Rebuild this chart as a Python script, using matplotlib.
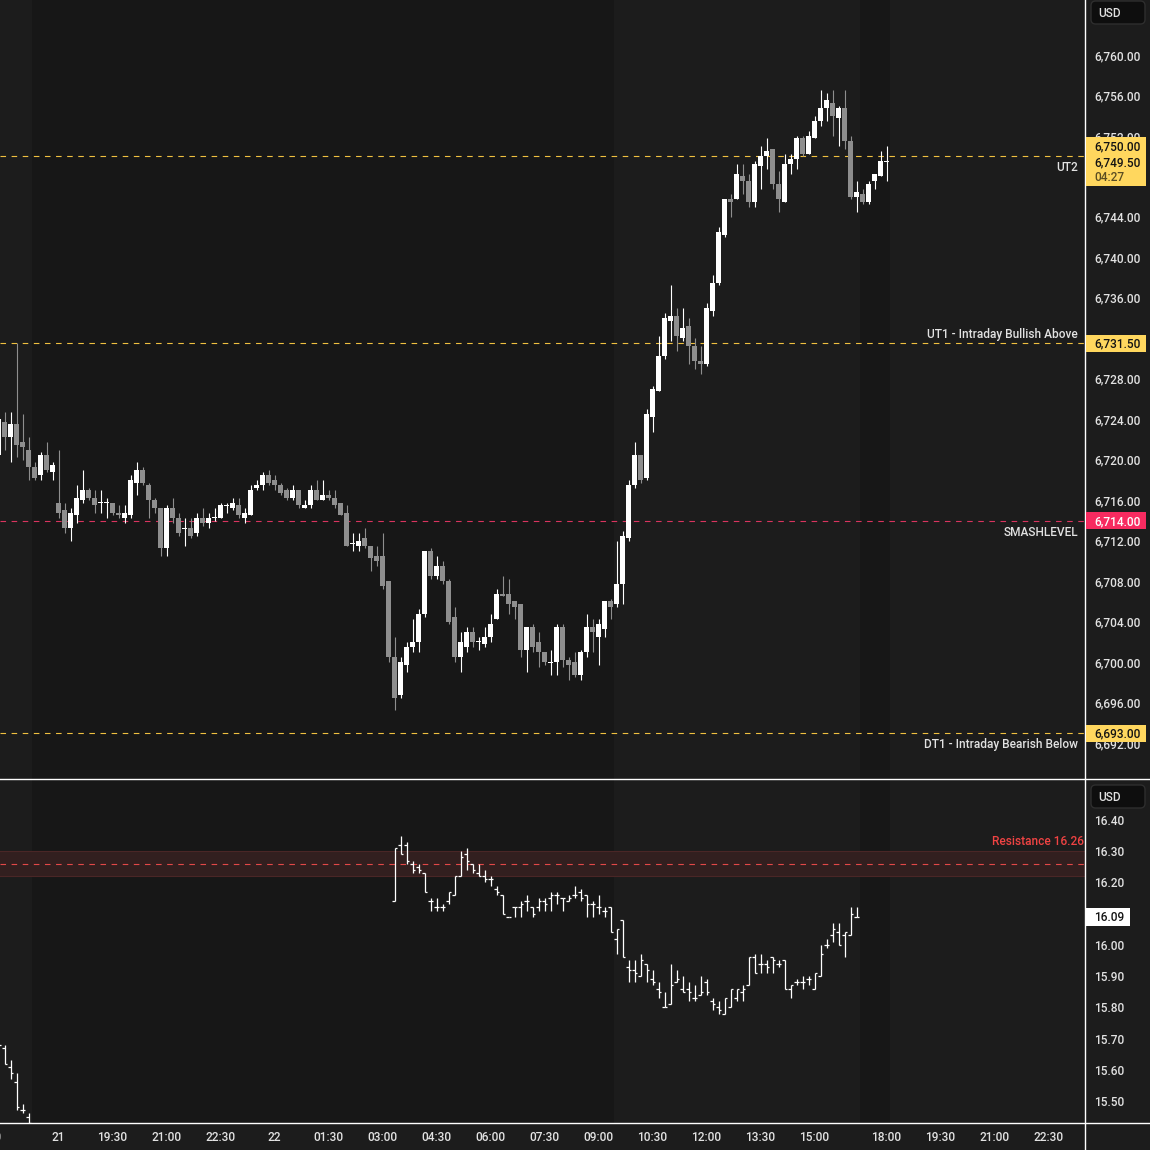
import matplotlib
matplotlib.use('Agg')
import matplotlib.pyplot as plt
from matplotlib.patches import Rectangle, FancyBboxPatch
from matplotlib.lines import Line2D

plt.rcParams['font.family'] = ['Roboto', 'DejaVu Sans']
plt.rcParams['font.weight'] = 'medium'

W = H = 1150
BG = '#1c1c1c'
BG_ETH = '#171717'
TXT = '#e2e2e2'
UP = '#ffffff'
DOWN = '#8e8e8e'
YELLOW = '#ffd75e'
LINE_YELLOW = '#f0c040'
PINK = '#f72b60'
RED = '#f04343'
FS = 8.6

# ES 10-minute candles, bar index 0..148
es_open = [6720.5, 6723.75, 6722.25, 6723.5, 6721.75, 6721.0, 6719.25, 6718.5, 6720.5, 6718.75,
           6715.75, 6715.0, 6713.25, 6714.5, 6716.0, 6717.0, 6716.25, 6715.75, 6715.75, 6715.75,
           6714.75, 6714.25, 6714.5, 6717.75, 6719.0, 6717.5, 6716.0, 6715.25, 6711.25, 6715.25,
           6714.25, 6713.25, 6713.25, 6712.75, 6714.25, 6713.75, 6714.25, 6714.25, 6715.5, 6715.25,
           6715.5, 6714.25, 6714.5, 6717.25, 6717.5, 6718.5, 6718.0, 6717.5, 6717.0, 6716.25,
           6717.0, 6715.25, 6715.5, 6717.0, 6716.0, 6716.5, 6716.25, 6715.75, 6714.75, 6711.75,
           6711.5, 6712.25, 6711.5, 6710.5, 6710.5, 6708.0, 6700.5, 6696.75, 6699.75, 6701.5,
           6702.0, 6704.75, 6711.0, 6708.5, 6709.5, 6708.0, 6704.5, 6700.5, 6701.5, 6703.0,
           6702.0, 6701.75, 6702.5, 6704.25, 6706.75, 6706.75, 6706.0, 6705.75, 6701.25, 6703.5,
           6702.0, 6701.0, 6700.0, 6700.0, 6703.5, 6700.25, 6700.0, 6698.75, 6701.0, 6703.5,
           6702.5, 6703.25, 6706.0, 6705.75, 6707.75, 6712.25, 6717.5, 6720.5, 6718.25, 6724.25,
           6726.75, 6730.25, 6733.75, 6734.25, 6732.0, 6733.25, 6731.25, 6729.75, 6729.5, 6734.75,
           6737.5, 6742.25, 6745.75, 6745.75, 6748.0, 6747.5, 6745.5, 6749.0, 6750.0, 6750.75,
           6747.25, 6745.5, 6749.25, 6749.75, 6751.75, 6750.25, 6751.75, 6753.5, 6754.75, 6755.25,
           6753.75, 6754.75, 6751.5, 6746.0, 6746.25, 6745.5, 6747.5, 6748.0, 6749.5]
es_high = [6724.25, 6724.75, 6724.75, 6731.5, 6724.5, 6722.25, 6719.75, 6720.75, 6721.75, 6719.75,
           6721.0, 6715.75, 6715.25, 6717.5, 6719.0, 6717.25, 6717.0, 6717.0, 6716.25, 6715.75,
           6715.5, 6715.5, 6718.5, 6719.75, 6719.25, 6717.75, 6716.25, 6715.25, 6715.5, 6716.25,
           6714.75, 6714.25, 6714.25, 6714.75, 6715.25, 6714.75, 6715.25, 6715.75, 6715.75, 6716.25,
           6716.25, 6715.25, 6717.5, 6718.0, 6718.75, 6719.0, 6718.5, 6717.75, 6717.25, 6717.5,
           6717.0, 6716.0, 6717.5, 6718.0, 6718.0, 6717.0, 6717.0, 6715.75, 6715.5, 6712.75,
           6712.75, 6713.25, 6711.5, 6711.5, 6712.75, 6708.0, 6702.5, 6700.5, 6702.0, 6704.25,
           6705.25, 6711.0, 6711.25, 6710.5, 6710.0, 6708.25, 6705.5, 6703.0, 6703.5, 6703.5,
           6702.5, 6703.5, 6704.75, 6707.25, 6708.5, 6708.25, 6706.0, 6705.75, 6703.5, 6703.75,
           6703.0, 6701.0, 6701.25, 6703.75, 6703.75, 6700.5, 6701.0, 6701.25, 6704.75, 6704.25,
           6704.25, 6706.0, 6706.25, 6712.0, 6713.0, 6718.0, 6721.75, 6720.5, 6725.0, 6727.25,
           6732.25, 6734.5, 6737.25, 6735.0, 6735.0, 6734.0, 6732.0, 6731.25, 6735.5, 6738.25,
           6743.0, 6745.75, 6746.25, 6749.25, 6749.25, 6748.25, 6749.5, 6751.0, 6751.75, 6750.75,
           6748.5, 6750.25, 6750.25, 6752.0, 6752.0, 6752.5, 6754.0, 6756.5, 6756.25, 6756.5,
           6755.0, 6756.5, 6752.0, 6747.5, 6746.75, 6747.5, 6748.25, 6750.5, 6751.0]
es_low = [6719.75, 6721.0, 6719.75, 6720.25, 6720.0, 6718.0, 6718.0, 6718.0, 6718.75, 6718.0,
          6714.25, 6712.75, 6712.0, 6713.75, 6715.75, 6716.0, 6714.75, 6714.75, 6714.25, 6714.5,
          6714.25, 6713.75, 6714.25, 6716.5, 6717.5, 6714.25, 6714.75, 6710.5, 6710.5, 6713.75,
          6712.5, 6711.5, 6712.25, 6712.5, 6713.5, 6713.25, 6714.0, 6714.25, 6714.75, 6715.0,
          6714.25, 6713.75, 6714.5, 6717.0, 6717.0, 6717.5, 6717.0, 6716.5, 6716.0, 6716.0,
          6715.25, 6715.25, 6715.25, 6716.0, 6716.0, 6716.0, 6715.25, 6714.5, 6711.5, 6711.0,
          6711.0, 6711.25, 6709.0, 6709.5, 6707.25, 6700.0, 6695.25, 6696.5, 6699.0, 6701.0,
          6701.0, 6704.5, 6708.25, 6708.25, 6707.75, 6703.75, 6700.0, 6699.0, 6701.0, 6701.5,
          6701.25, 6701.5, 6702.0, 6704.25, 6706.5, 6704.75, 6704.25, 6700.5, 6699.0, 6701.0,
          6699.5, 6699.75, 6698.75, 6698.75, 6699.5, 6698.25, 6698.5, 6698.25, 6700.5, 6701.0,
          6699.75, 6702.5, 6704.25, 6705.5, 6705.75, 6712.0, 6717.25, 6717.75, 6718.0, 6722.75,
          6726.75, 6730.0, 6731.75, 6730.75, 6731.75, 6729.5, 6729.0, 6728.5, 6729.25, 6734.25,
          6737.25, 6742.0, 6744.0, 6745.75, 6746.25, 6745.0, 6745.0, 6746.75, 6748.75, 6746.75,
          6744.5, 6745.5, 6748.25, 6748.75, 6750.0, 6750.25, 6751.75, 6753.0, 6753.5, 6752.0,
          6751.0, 6750.75, 6745.75, 6744.5, 6745.25, 6745.25, 6746.75, 6748.0, 6747.5]
es_close = [6724.0, 6722.25, 6723.5, 6721.5, 6721.25, 6719.25, 6718.25, 6720.5, 6719.0, 6719.5,
            6714.75, 6713.25, 6714.75, 6716.25, 6717.0, 6716.25, 6715.5, 6715.75, 6715.75, 6714.75,
            6714.5, 6714.75, 6718.0, 6719.0, 6717.75, 6716.0, 6715.25, 6711.25, 6715.25, 6714.25,
            6712.75, 6713.25, 6712.5, 6714.25, 6713.75, 6714.25, 6714.25, 6715.5, 6715.5, 6715.75,
            6714.5, 6714.75, 6717.0, 6717.5, 6718.5, 6717.75, 6717.5, 6716.75, 6716.25, 6717.0,
            6715.5, 6715.5, 6717.0, 6716.0, 6716.5, 6716.25, 6715.5, 6714.5, 6711.5, 6711.75,
            6712.0, 6711.5, 6710.25, 6710.0, 6707.5, 6700.5, 6696.5, 6700.0, 6701.5, 6702.0,
            6704.75, 6711.0, 6708.5, 6709.5, 6708.0, 6704.0, 6700.5, 6702.0, 6703.0, 6702.0,
            6702.0, 6702.5, 6703.75, 6706.75, 6706.5, 6705.75, 6705.5, 6701.25, 6703.5, 6701.5,
            6701.0, 6700.0, 6700.0, 6703.5, 6700.25, 6699.75, 6698.75, 6701.0, 6703.5, 6703.0,
            6703.75, 6706.0, 6705.5, 6707.75, 6712.5, 6717.5, 6720.5, 6718.0, 6724.5, 6727.0,
            6730.25, 6734.0, 6734.25, 6732.25, 6733.0, 6731.25, 6729.75, 6729.5, 6735.0, 6737.5,
            6742.5, 6745.75, 6745.5, 6748.25, 6747.5, 6745.5, 6749.25, 6750.0, 6750.5, 6747.25,
            6745.75, 6749.25, 6749.75, 6751.75, 6750.25, 6752.0, 6753.5, 6754.75, 6755.5, 6754.0,
            6754.75, 6751.5, 6746.0, 6746.5, 6745.5, 6747.25, 6748.25, 6749.5, 6749.5]

# VIX bars (only traded bars), positions on the same bar index
vix_bar = list(range(0, 6)) + list(range(66, 144))
vix_open = [15.70, 15.67, 15.61, 15.56, 15.47, 15.45,
            16.14, 16.32, 16.32, 16.26, 16.25, 16.23, 16.14, 16.12, 16.12, 16.14,
            16.16, 16.22, 16.29, 16.26, 16.23, 16.22, 16.21, 16.18, 16.16, 16.09,
            16.12, 16.12, 16.14, 16.12, 16.12, 16.14, 16.15, 16.16, 16.15, 16.14,
            16.16, 16.17, 16.16, 16.13, 16.12, 16.11, 16.12, 16.02, 16.08, 15.93,
            15.92, 15.90, 15.94, 15.89, 15.86, 15.80, 15.81, 15.88, 15.86, 15.86,
            15.83, 15.84, 15.88, 15.82, 15.80, 15.78, 15.80, 15.83, 15.85, 15.87,
            15.96, 15.94, 15.94, 15.96, 15.94, 15.95, 15.86, 15.88, 15.88, 15.89,
            15.86, 15.90, 16.00, 16.03, 16.04, 16.03, 16.03, 16.09]
vix_high = [15.71, 15.68, 15.63, 15.59, 15.49, 15.46,
            16.31, 16.35, 16.33, 16.27, 16.26, 16.23, 16.15, 16.15, 16.13, 16.17,
            16.22, 16.30, 16.31, 16.26, 16.26, 16.24, 16.22, 16.19, 16.16, 16.09,
            16.12, 16.14, 16.16, 16.12, 16.15, 16.15, 16.17, 16.17, 16.15, 16.16,
            16.19, 16.18, 16.16, 16.14, 16.16, 16.12, 16.12, 16.05, 16.08, 15.95,
            15.95, 15.97, 15.94, 15.92, 15.88, 15.85, 15.94, 15.92, 15.90, 15.88,
            15.87, 15.90, 15.89, 15.83, 15.82, 15.83, 15.86, 15.86, 15.87, 15.96,
            15.97, 15.97, 15.95, 15.96, 15.95, 15.95, 15.87, 15.89, 15.90, 15.90,
            15.91, 16.00, 16.02, 16.07, 16.07, 16.04, 16.12, 16.12]
vix_low = [15.67, 15.62, 15.57, 15.47, 15.46, 15.41,
           16.14, 16.29, 16.26, 16.23, 16.23, 16.17, 16.11, 16.11, 16.11, 16.13,
           16.16, 16.22, 16.24, 16.23, 16.22, 16.20, 16.19, 16.16, 16.10, 16.09,
           16.09, 16.09, 16.11, 16.09, 16.11, 16.11, 16.11, 16.13, 16.11, 16.14,
           16.15, 16.14, 16.09, 16.09, 16.10, 16.09, 16.04, 15.97, 15.96, 15.88,
           15.88, 15.90, 15.88, 15.87, 15.83, 15.80, 15.81, 15.88, 15.85, 15.82,
           15.82, 15.84, 15.84, 15.79, 15.78, 15.78, 15.80, 15.82, 15.82, 15.87,
           15.91, 15.91, 15.91, 15.91, 15.93, 15.86, 15.83, 15.87, 15.86, 15.87,
           15.86, 15.90, 15.99, 16.01, 16.00, 15.96, 16.03, 16.09]
vix_close = [15.68, 15.62, 15.59, 15.48, 15.47, 15.43,
             16.31, 16.29, 16.27, 16.24, 16.24, 16.17, 16.14, 16.12, 16.12, 16.17,
             16.22, 16.28, 16.27, 16.24, 16.22, 16.21, 16.21, 16.17, 16.10, 16.09,
             16.12, 16.13, 16.14, 16.10, 16.14, 16.13, 16.16, 16.16, 16.15, 16.15,
             16.16, 16.15, 16.13, 16.13, 16.12, 16.11, 16.04, 16.05, 15.96, 15.92,
             15.91, 15.95, 15.92, 15.88, 15.85, 15.80, 15.87, 15.89, 15.85, 15.85,
             15.83, 15.85, 15.85, 15.81, 15.79, 15.83, 15.86, 15.86, 15.86, 15.96,
             15.91, 15.94, 15.93, 15.95, 15.94, 15.86, 15.87, 15.88, 15.88, 15.89,
             15.91, 15.97, 16.00, 16.05, 16.00, 16.04, 16.10, 16.09]

# horizontal levels on the ES pane
level_values = [6750.00, 6731.50, 6714.00, 6693.00]
level_names = ['UT2', 'UT1 - Intraday Bullish Above', 'SMASHLEVEL', 'DT1 - Intraday Bearish Below']
level_colors = [LINE_YELLOW, LINE_YELLOW, '#d9345f', LINE_YELLOW]
level_label_side = ['below', 'above', 'below', 'below']
resistance_low, resistance_mid, resistance_high = 16.22, 16.26, 16.30

# x axis time labels (bar index -> label)
time_ticks = [10, 19, 28, 37, 46, 55, 64, 73, 82, 91, 100, 109, 118, 127, 136, 148, 157, 166, 175]
time_labels = ['21', '19:30', '21:00', '22:30', '22', '01:30', '03:00', '04:30', '06:00', '07:30',
               '09:00', '10:30', '12:00', '13:30', '15:00', '18:00', '19:30', '21:00', '22:30']
eth_spans = [(5.5, 102.5), (143.5, 148.5)]

es_ticks = list(range(6692, 6761, 4))
vix_ticks = [15.5, 15.6, 15.7, 15.8, 15.9, 16.0, 16.1, 16.2, 16.3, 16.4]

last_price = 6749.50
countdown = '04:27'
vix_last = 16.09


def fx(x):
    return x / W


def fy(y):
    return 1 - y / H


def py(ax, value):
    # pixel row (from top) of a data value
    return H - ax.transData.transform((0, value))[1]


fig = plt.figure(figsize=(W / 100, H / 100), dpi=100, facecolor=BG)
ax = fig.add_axes([0, fy(779), fx(1085), 779 / H])
axv = fig.add_axes([0, fy(1123), fx(1085), 343 / H])
xlim = (0.25, 181.08)

for a in (ax, axv):
    a.set_facecolor(BG)
    a.set_xlim(*xlim)
    for s in a.spines.values():
        s.set_visible(False)
    for x0, x1 in eth_spans:
        a.axvspan(x0, x1, color=BG_ETH, lw=0, zorder=0)
    a.yaxis.tick_right()
    a.tick_params(axis='y', length=0, pad=6.5, labelsize=FS, labelcolor=TXT)

ax.set_ylim(6688.46, 6765.43)
axv.set_ylim(15.4295, 16.528)

# ES candles
n = len(es_open)
for i in range(n):
    o, h, l, c = es_open[i], es_high[i], es_low[i], es_close[i]
    col = UP if c >= o else DOWN
    ax.vlines(i, l, h, color=col, lw=0.8, zorder=3)
    bottom = min(o, c)
    height = max(abs(c - o), 0.1)
    ax.bar(i, height, bottom=bottom - (0.05 if c == o else 0), width=0.82,
           color=col, lw=0, zorder=4)

# levels
for val, col in zip(level_values, level_colors):
    ax.axhline(val, color=col, lw=0.8, ls=(0, (5, 5)), zorder=2)

ax.set_xticks([])
ax.set_yticks(es_ticks)
ax.set_yticklabels([f'{v:,.2f}' for v in es_ticks])

# VIX OHLC bars
for j, i in enumerate(vix_bar):
    o, h, l, c = vix_open[j], vix_high[j], vix_low[j], vix_close[j]
    axv.vlines(i, l, h, color='white', lw=0.9, zorder=3)
    axv.hlines(o, i - 0.42, i, color='white', lw=0.9, zorder=3)
    axv.hlines(c, i, i + 0.42, color='white', lw=0.9, zorder=3)

axv.axhspan(resistance_low, resistance_high, color='#321f1f', lw=0, zorder=1)
axv.axhline(resistance_high, color='#4a2626', lw=0.8, zorder=1)
axv.axhline(resistance_low, color='#4a2626', lw=0.8, zorder=1)
axv.axhline(resistance_mid, color='#e34848', lw=0.8, ls=(0, (5, 5)), zorder=2)

axv.set_yticks(vix_ticks)
axv.set_yticklabels([f'{v:.2f}' for v in vix_ticks])
axv.set_xticks(time_ticks)
axv.set_xticklabels(time_labels)
axv.tick_params(axis='x', length=0, pad=6, labelsize=FS, labelcolor=TXT)
# previous-day label, only its last digit shows at the left edge (as in the source)
axv.annotate('15:00', xy=(-2, 0), xycoords=('data', 'axes fraction'), xytext=(0, -6),
             textcoords='offset points', ha='center', va='top', fontsize=FS, color=TXT,
             annotation_clip=False)

# separators
fig.add_artist(Line2D([fx(1085), fx(1085)], [0, 1], transform=fig.transFigure, color='white', lw=1.0))
fig.add_artist(Line2D([0, 1], [fy(779), fy(779)], transform=fig.transFigure, color='white', lw=1.0))
fig.add_artist(Line2D([0, 1], [fy(1123), fy(1123)], transform=fig.transFigure, color='white', lw=1.0))


def tag(yc, h, face, texts, x0=1086, x1=1146):
    fig.add_artist(Rectangle((fx(x0), fy(yc + h / 2)), (x1 - x0) / W, h / H,
                             transform=fig.transFigure, fc=face, ec='none', zorder=5))
    for txt, col, dy in texts:
        fig.text(fx(1094), fy(yc + dy + 1), txt, color=col, fontsize=FS, ha='left', va='center',
                 zorder=6)


def usd_box(y0):
    fig.add_artist(FancyBboxPatch((fx(1091), fy(y0 + 23)), 54 / W, 23 / H,
                                  boxstyle='round,pad=0,rounding_size=0.004',
                                  transform=fig.transFigure, fc='#0e0e0e', ec='#2e2e2e',
                                  lw=1.0, zorder=5))
    fig.text(fx(1098), fy(y0 + 12.5), 'USD', color=TXT, fontsize=FS, ha='left', va='center', zorder=6)


usd_box(1)
usd_box(785)

# level labels and price tags
for val, name, side in zip(level_values, level_names, level_label_side):
    yl = py(ax, val)
    dy = 11.5 if side == 'below' else -9
    fig.text(fx(1078), fy(yl + dy), name, color=TXT, fontsize=FS, ha='right', va='center', zorder=6)

y_last = py(ax, last_price)
tag(y_last - 15.5, 17, YELLOW, [(f'{level_values[0]:,.2f}', '#131313', 0)])
tag(y_last + 9, 32, YELLOW, [(f'{last_price:,.2f}', '#131313', -8), (countdown, '#5a4d22', 6)])
tag(py(ax, level_values[1]), 17, YELLOW, [(f'{level_values[1]:,.2f}', '#131313', 0)])
tag(py(ax, level_values[2]), 17, PINK, [(f'{level_values[2]:,.2f}', 'white', 0)])
tag(py(ax, level_values[3]), 17, YELLOW, [(f'{level_values[3]:,.2f}', '#131313', 0)])

y_res = py(axv, resistance_high)
fig.text(fx(1084), fy(y_res - 10), f'Resistance {resistance_mid:.2f}', color=RED, fontsize=FS,
         ha='right', va='center', zorder=6)
tag(py(axv, vix_last), 18, 'white', [(f'{vix_last:.2f}', '#131313', 0)], x1=1130)

fig.savefig('out.png', dpi=100, facecolor=BG)
